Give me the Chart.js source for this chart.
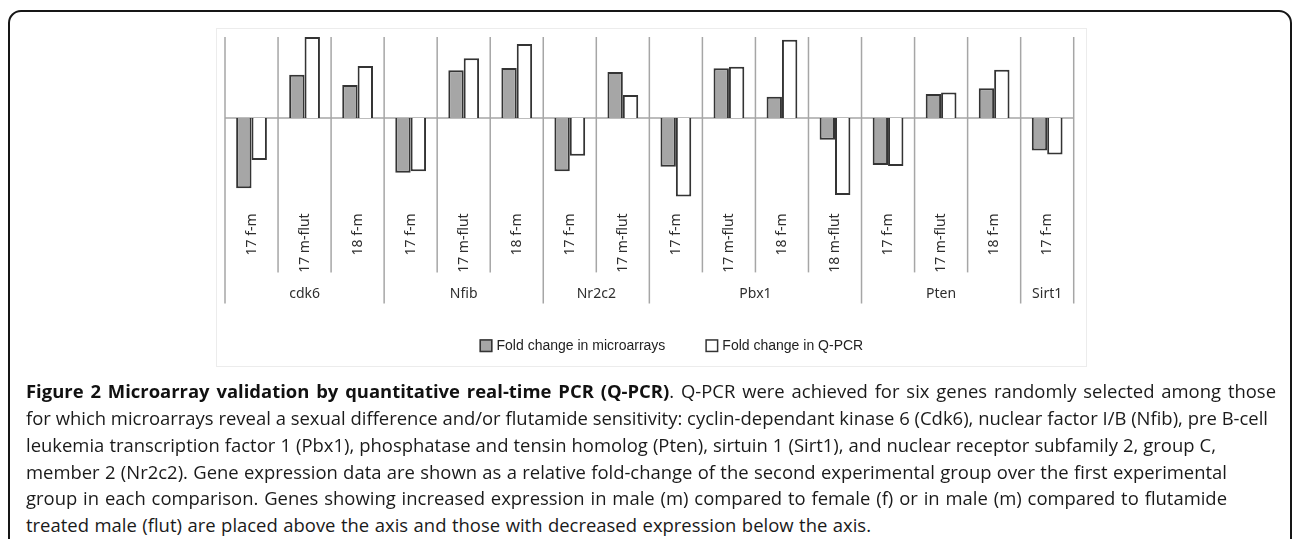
<!DOCTYPE html>
<html><head><meta charset="utf-8">
<script src="https://cdn.jsdelivr.net/npm/chart.js@4.4.1/dist/chart.umd.min.js"></script>
<style>
html,body{margin:0;padding:0;background:#fff;width:1292px;height:539px;overflow:hidden;}
#frame{position:absolute;left:8px;top:10px;width:1284px;height:620px;box-sizing:border-box;border:2px solid #161616;border-radius:13px;}
#imgbox{position:absolute;left:216px;top:28px;width:871px;height:339px;box-sizing:border-box;border:1px solid #ececec;background:#fff;}
#c{position:absolute;left:0;top:0;}
.cap{position:absolute;left:26px;white-space:nowrap;font-family:'Open Sans',sans-serif;color:#1a1a1a;}
.cap b{font-weight:700;color:#111;}
</style></head>
<body>
<div id="frame"></div>
<div id="imgbox"></div>
<canvas id="c" width="1292" height="400"></canvas>
<div id="caption"></div>
<script>
// ---- data ----
const groups = ['cdk6', 'Nfib', 'Nr2c2', 'Pbx1', 'Pten', 'Sirt1'];
const groupSizes = [3, 3, 2, 4, 3, 1];
const comparisons = ['17 f-m', '17 m-flut', '18 f-m',
                     '17 f-m', '17 m-flut', '18 f-m',
                     '17 f-m', '17 m-flut',
                     '17 f-m', '17 m-flut', '18 f-m', '18 m-flut',
                     '17 f-m', '17 m-flut', '18 f-m',
                     '17 f-m'];
const microarrays = [-2.60, 1.60, 1.22, -2.03, 1.77, 1.85, -1.97, 1.70, -1.81, 1.84, 0.79, -0.81, -1.74, 0.89, 1.10, -1.20];
const qpcr        = [-1.56, 3.00, 1.93, -1.97, 2.21, 2.74, -1.40, 0.85, -2.91, 1.90, 2.90, -2.85, -1.78, 0.94, 1.79, -1.35];
const seriesNames = ['Fold change in microarrays', 'Fold change in Q-PCR'];

// ---- layout constants ----
const LINE_COLOR = '#a6a6a6';
const AXIS_H = 68;
const TICK_FAMILY = '"Noto Sans", sans-serif';
const TICK_SIZE = 14;

const decor = {
  id: 'decor',
  beforeDatasetsDraw(chart) {
    const ctx = chart.ctx, xs = chart.scales.x, ys = chart.scales.y, ca = chart.chartArea;
    const n = comparisons.length;
    const groupEdges = new Set([0]);
    let acc = 0; groupSizes.forEach(s => { acc += s; groupEdges.add(acc); });
    ctx.save();
    ctx.strokeStyle = LINE_COLOR; ctx.lineWidth = 1.5;
    for (let i = 0; i <= n; i++) {
      let bx;
      if (i === 0) bx = xs.left; else if (i === n) bx = xs.right;
      else bx = (xs.getPixelForValue(i - 1) + xs.getPixelForValue(i)) / 2;
      const bottom = groupEdges.has(i) ? ca.bottom + 99 : ca.bottom + AXIS_H;
      ctx.beginPath(); ctx.moveTo(bx, ca.top); ctx.lineTo(bx, bottom); ctx.stroke();
    }
    const y0 = ys.getPixelForValue(0);
    ctx.beginPath(); ctx.moveTo(xs.left, y0); ctx.lineTo(xs.right, y0); ctx.stroke();
    ctx.restore();
  },
  afterDraw(chart) {
    const ctx = chart.ctx, xs = chart.scales.x, ca = chart.chartArea;
    ctx.save();
    // group labels
    ctx.font = TICK_SIZE + 'px ' + TICK_FAMILY; ctx.fillStyle = '#2e2e2e'; ctx.textAlign = 'center'; ctx.textBaseline = 'middle';
    let start = 0;
    groups.forEach((g, k) => {
      const end = start + groupSizes[k];
      const l = start === 0 ? xs.left : (xs.getPixelForValue(start - 1) + xs.getPixelForValue(start)) / 2;
      const r = end === comparisons.length ? xs.right : (xs.getPixelForValue(end - 1) + xs.getPixelForValue(end)) / 2;
      ctx.fillText(g, (l + r) / 2, ca.bottom + 89.5);
      start = end;
    });
    // legend
    ctx.font = '14px "Liberation Sans", Arial, sans-serif';
    const items = chart.data.datasets.map(ds => ({ text: ds.label, fill: ds.backgroundColor, stroke: ds.borderColor, w: ctx.measureText(ds.label).width }));
    const box = 13, gapBT = 4, gapItems = 40;
    const total = items.reduce((s, it) => s + box + gapBT + it.w, 0) + gapItems * (items.length - 1);
    let x = (ca.left + ca.right) / 2 + 22 - total / 2;
    const yc = ca.bottom + 141.3;
    ctx.textAlign = 'left'; ctx.textBaseline = 'middle';
    items.forEach(it => {
      ctx.fillStyle = it.fill; ctx.strokeStyle = it.stroke; ctx.lineWidth = 1.5;
      ctx.fillRect(x, yc - box / 2, box, box);
      ctx.strokeRect(x + 0.75, yc - box / 2 + 0.75, box - 1.5, box - 1.5);
      ctx.fillStyle = '#222';
      ctx.fillText(it.text, x + box + gapBT, yc + 0.5);
      x += box + gapBT + it.w + gapItems;
    });
    ctx.restore();
  }
};

new Chart(document.getElementById('c'), {
  type: 'bar',
  data: {
    labels: comparisons,
    datasets: [
      { label: seriesNames[0], data: microarrays, backgroundColor: '#a6a6a6', borderColor: '#343434', borderWidth: 2 },
      { label: seriesNames[1], data: qpcr, backgroundColor: '#ffffff', borderColor: '#343434', borderWidth: 2 }
    ]
  },
  options: {
    responsive: false, animation: false, devicePixelRatio: 1,
    layout: { padding: { left: 225, right: 1292 - 1073.7, top: 37, bottom: 400 - 204.4 - AXIS_H } },
    plugins: { legend: { display: false }, tooltip: { enabled: false } },
    datasets: { bar: { categoryPercentage: 0.58, barPercentage: 1.0 } },
    scales: {
      x: {
        grid: { display: false, drawTicks: false },
        border: { display: false },
        ticks: { autoSkip: false, minRotation: 90, maxRotation: 90, padding: 9,
                 font: { family: TICK_FAMILY, size: TICK_SIZE }, color: '#2e2e2e' },
        afterFit(axis) { axis.height = AXIS_H; }
      },
      y: { display: false, min: -3.2, max: 3 }
    }
  },
  plugins: [decor]
});

// ---- caption ----
const capLines = [
  ['Figure 2 Microarray validation by quantitative real-time PCR (Q-PCR)', '. Q-PCR were achieved for six genes randomly selected among those', 1277],
  ['', 'for which microarrays reveal a sexual difference and/or flutamide sensitivity: cyclin-dependant kinase 6 (Cdk6), nuclear factor I/B (Nfib), pre B-cell', 1269],
  ['', 'leukemia transcription factor 1 (Pbx1), phosphatase and tensin homolog (Pten), sirtuin 1 (Sirt1), and nuclear receptor subfamily 2, group C,', 1217],
  ['', 'member 2 (Nr2c2). Gene expression data are shown as a relative fold-change of the second experimental group over the first experimental', 1228],
  ['', 'group in each comparison. Genes showing increased expression in male (m) compared to female (f) or in male (m) compared to flutamide', 1228],
  ['', 'treated male (flut) are placed above the axis and those with decreased expression below the axis.', 872]
];
(function () {
  const mc = document.createElement('canvas').getContext('2d');
  const LEFT = 27;
  mc.font = '100px "Open Sans"';
  const fs = 100 * (capLines[1][2] - LEFT) / mc.measureText(capLines[1][1]).width;
  const cap = document.getElementById('caption');
  capLines.forEach((ln, k) => {
    mc.font = '700 ' + fs + 'px "Open Sans"';
    let w = ln[0] ? mc.measureText(ln[0]).width : 0;
    mc.font = fs + 'px "Open Sans"';
    w += mc.measureText(ln[1]).width;
    const spaces = (ln[0] + ln[1]).split(' ').length - 1;
    const ws = (ln[2] - LEFT - w) / spaces;
    const d = document.createElement('div');
    d.className = 'cap';
    d.style.fontSize = fs + 'px';
    d.style.lineHeight = (fs * 1.362) + 'px';
    d.style.wordSpacing = ws + 'px';
    const baseline = 398 + 26.8 * k;
    d.style.top = (baseline - 1.069 * fs) + 'px';
    if (ln[0]) { const b = document.createElement('b'); b.textContent = ln[0]; d.appendChild(b); }
    d.appendChild(document.createTextNode(ln[1]));
    cap.appendChild(d);
  });
})();
</script>
</body></html>
